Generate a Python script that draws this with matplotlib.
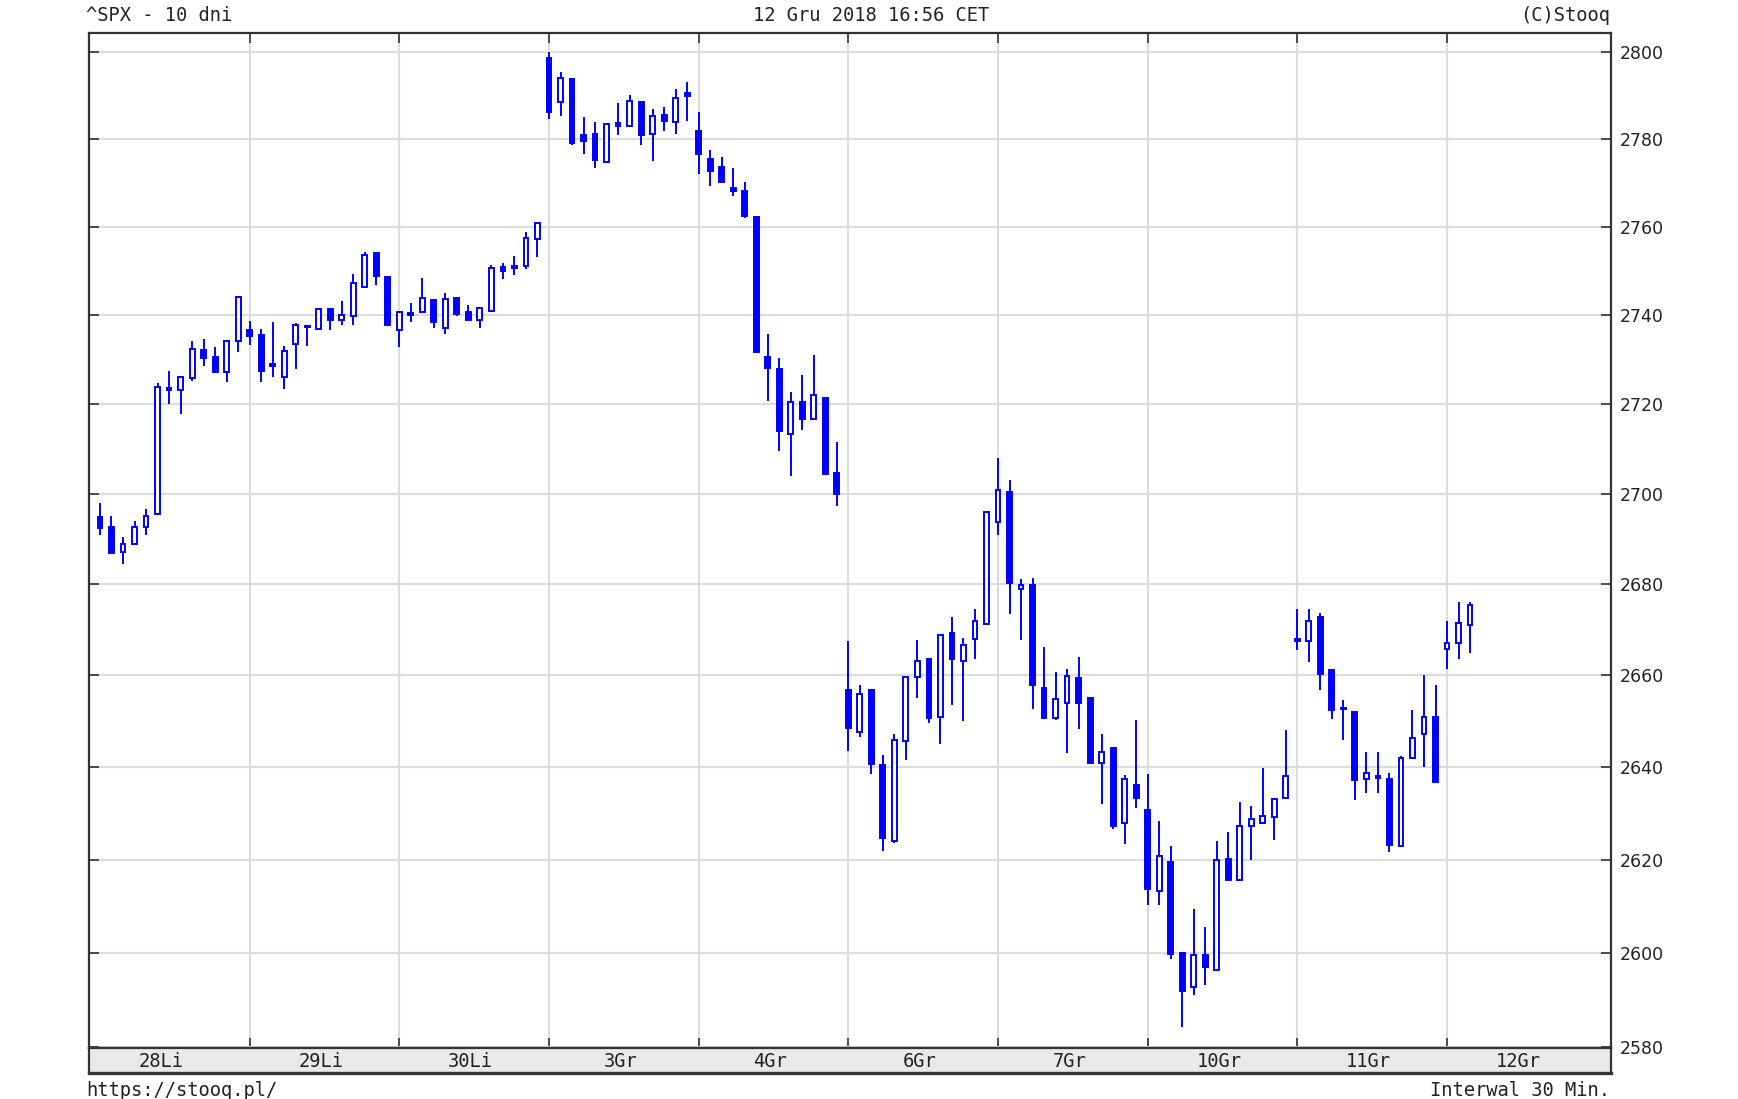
# plot.py
# ^SPX - 10 dni, świece 30 min (wygląd jak na stooq.pl)

import matplotlib
matplotlib.use("Agg")
import matplotlib.pyplot as plt
from matplotlib.ticker import FixedLocator, FuncFormatter, NullLocator

# ============================================================
# Dane
# ============================================================

day_labels = ["28Li", "29Li", "30Li", "3Gr", "4Gr", "6Gr", "7Gr", "10Gr", "11Gr", "12Gr"]
candles_per_day = 13

opens = [
    2694.8, 2692.6, 2687.2, 2688.9, 2692.6, 2695.6, 2723.3, 2723.2, 2725.8, 2732.2, 2730.6, 2727.3, 2734.1,
    2736.6, 2735.5, 2728.5, 2726.0, 2733.6, 2737.6, 2737.0, 2741.4, 2739.0, 2739.8, 2746.4, 2754.1, 2748.7,
    2736.7, 2740.6, 2740.8, 2743.4, 2737.2, 2743.8, 2740.8, 2739.0, 2741.0, 2751.0, 2751.2, 2751.2, 2757.3,
    2798.7, 2788.4, 2793.7, 2780.9, 2781.1, 2774.7, 2783.7, 2782.9, 2788.6, 2781.1, 2785.5, 2784.0, 2790.5,
    2781.9, 2775.5, 2773.7, 2768.8, 2768.2, 2762.3, 2730.6, 2727.8, 2713.3, 2720.5, 2716.8, 2721.5, 2704.7,
    2656.9, 2647.6, 2656.9, 2640.4, 2623.9, 2645.6, 2659.6, 2663.5, 2650.9, 2669.3, 2663.1, 2667.9, 2671.3,
    2693.8, 2700.4, 2678.9, 2679.8, 2657.2, 2650.8, 2654.0, 2659.4, 2655.1, 2640.9, 2644.1, 2627.9, 2636.2,
    2630.6, 2613.2, 2619.5, 2600.0, 2592.6, 2599.6, 2596.4, 2620.2, 2615.5, 2627.2, 2628.0, 2629.2, 2633.2,
    2668.0, 2667.5, 2672.8, 2661.2, 2652.9, 2652.0, 2637.5, 2638.0, 2637.5, 2622.9, 2642.0, 2647.1, 2651.0,
    2665.8, 2667.2, 2671.0,
]
highs = [
    2697.9, 2695.2, 2690.4, 2693.9, 2696.7, 2724.7, 2727.4, 2726.4, 2734.2, 2734.7, 2732.8, 2734.5, 2744.3,
    2738.7, 2737.0, 2738.5, 2733.0, 2738.3, 2737.9, 2741.5, 2741.5, 2743.2, 2749.2, 2754.2, 2754.2, 2748.8,
    2741.0, 2742.8, 2748.4, 2743.6, 2745.1, 2744.2, 2742.3, 2741.8, 2751.4, 2751.9, 2753.3, 2758.8, 2761.1,
    2800.0, 2795.4, 2794.1, 2785.0, 2784.0, 2783.5, 2788.2, 2790.1, 2788.7, 2786.9, 2787.3, 2791.5, 2793.0,
    2786.1, 2777.5, 2776.0, 2773.3, 2770.2, 2762.4, 2735.7, 2730.3, 2722.8, 2726.5, 2731.0, 2721.6, 2711.6,
    2667.6, 2657.8, 2657.0, 2642.7, 2647.1, 2659.7, 2667.7, 2663.6, 2668.9, 2672.8, 2668.3, 2674.5, 2696.1,
    2707.9, 2703.0, 2681.1, 2681.5, 2666.3, 2660.7, 2661.4, 2664.1, 2655.2, 2647.2, 2644.2, 2638.3, 2650.2,
    2638.6, 2628.3, 2622.9, 2600.1, 2609.3, 2605.4, 2624.1, 2626.0, 2632.4, 2631.5, 2639.9, 2633.3, 2648.0,
    2674.6, 2674.6, 2673.8, 2661.3, 2654.7, 2652.1, 2643.3, 2643.3, 2638.8, 2642.4, 2652.5, 2660.1, 2658.0,
    2671.9, 2676.2, 2676.2,
]
lows = [
    2691.0, 2686.7, 2684.4, 2688.7, 2691.0, 2695.4, 2720.0, 2717.8, 2725.3, 2728.5, 2727.0, 2724.9, 2731.7,
    2733.4, 2725.0, 2726.0, 2723.5, 2728.0, 2733.1, 2736.8, 2736.6, 2737.9, 2737.9, 2746.2, 2746.8, 2737.5,
    2732.9, 2738.5, 2740.6, 2737.2, 2735.8, 2739.8, 2738.9, 2737.2, 2740.8, 2748.1, 2749.1, 2750.4, 2753.2,
    2784.7, 2785.2, 2778.6, 2776.6, 2773.3, 2774.6, 2780.9, 2782.8, 2778.6, 2775.0, 2781.9, 2781.1, 2784.2,
    2772.0, 2769.4, 2770.2, 2767.1, 2762.1, 2731.7, 2720.8, 2709.5, 2703.9, 2714.3, 2716.6, 2704.2, 2697.3,
    2643.6, 2646.6, 2638.5, 2621.8, 2623.6, 2641.5, 2655.1, 2649.5, 2645.1, 2653.5, 2650.0, 2663.5, 2671.2,
    2690.9, 2673.4, 2667.8, 2652.6, 2650.8, 2650.3, 2643.1, 2648.2, 2640.8, 2632.0, 2626.5, 2623.4, 2631.2,
    2610.3, 2610.3, 2598.6, 2584.1, 2590.9, 2593.1, 2596.3, 2615.6, 2615.4, 2620.0, 2628.0, 2624.3, 2633.1,
    2665.6, 2663.0, 2656.9, 2650.4, 2646.0, 2632.9, 2634.3, 2634.3, 2621.6, 2622.8, 2641.9, 2640.0, 2636.7,
    2661.4, 2663.6, 2664.8,
]
closes = [
    2692.4, 2687.0, 2688.9, 2692.6, 2695.2, 2723.8, 2723.6, 2726.2, 2732.3, 2730.3, 2727.2, 2734.3, 2744.2,
    2735.3, 2727.5, 2729.0, 2732.0, 2737.9, 2737.3, 2741.4, 2739.0, 2740.0, 2747.3, 2753.7, 2748.9, 2737.7,
    2740.8, 2740.1, 2744.0, 2738.5, 2743.6, 2740.2, 2739.0, 2741.7, 2750.6, 2749.9, 2750.6, 2757.5, 2760.8,
    2786.1, 2794.1, 2779.1, 2779.6, 2775.3, 2783.4, 2782.9, 2788.8, 2781.0, 2785.3, 2784.2, 2789.5, 2789.8,
    2776.7, 2772.6, 2770.3, 2768.2, 2762.4, 2731.8, 2728.1, 2714.0, 2720.5, 2716.8, 2722.0, 2704.4, 2700.0,
    2648.5, 2656.0, 2640.7, 2624.6, 2646.0, 2659.6, 2663.1, 2650.7, 2668.8, 2663.5, 2666.6, 2671.9, 2696.0,
    2700.8, 2680.4, 2679.8, 2657.8, 2650.8, 2654.8, 2659.8, 2654.0, 2640.9, 2643.3, 2627.2, 2637.5, 2633.4,
    2613.6, 2620.7, 2599.8, 2591.8, 2599.6, 2596.9, 2619.8, 2615.7, 2627.2, 2628.7, 2629.4, 2633.0, 2638.1,
    2667.6, 2671.9, 2660.3, 2652.5, 2652.6, 2637.3, 2638.8, 2637.6, 2623.2, 2642.0, 2646.4, 2651.0, 2636.8,
    2667.0, 2671.5, 2675.5,
]

y_ticks = [2580, 2600, 2620, 2640, 2660, 2680, 2700, 2720, 2740, 2760, 2780, 2800]

# ============================================================
# Styl
# ============================================================

BLUE = "#0000ff"
GRID = "#dcdcdc"
FRAME = "#333333"
BAND = "#e9e9e9"
MONO = ["DejaVu Sans Mono"]

W, H = 1738, 1099
ax_left, ax_right = 88.7 / W, 1610.5 / W
ax_top, ax_bot = 1 - 33.3 / H, 1 - 1047.5 / H
band_bot = 1 - 1073.0 / H

fig = plt.figure(figsize=(W / 100, H / 100), dpi=100)
fig.patch.set_facecolor("white")

ax = fig.add_axes([ax_left, ax_bot, ax_right - ax_left, ax_top - ax_bot])
band = fig.add_axes([ax_left, band_bot, ax_right - ax_left, ax_bot - band_bot])

# ── świece ────────────────────────────────────────────────
x = list(range(len(opens)))
ax.vlines(x, lows, highs, color=BLUE, linewidth=1.4, zorder=3)

up = [i for i in x if closes[i] >= opens[i]]
dn = [i for i in x if closes[i] < opens[i]]
ax.bar(up, [closes[i] - opens[i] for i in up], bottom=[opens[i] for i in up],
       width=0.42, facecolor="white", edgecolor=BLUE, linewidth=1.4, zorder=4)
ax.bar(dn, [opens[i] - closes[i] for i in dn], bottom=[closes[i] for i in dn],
       width=0.42, facecolor=BLUE, edgecolor=BLUE, linewidth=1.4, zorder=4)

# ── osie ──────────────────────────────────────────────────
ax.set_yscale("log")
ax.set_xlim(-0.98, 131.2)
ax.set_ylim(2579.8, 2804.3)

day_starts = [candles_per_day * d for d in range(1, len(day_labels))]
ax.xaxis.set_major_locator(FixedLocator(day_starts))
ax.yaxis.set_major_locator(FixedLocator(y_ticks))
ax.yaxis.set_minor_locator(NullLocator())
ax.yaxis.set_major_formatter(FuncFormatter(lambda v, _: f"{v:.0f}"))

ax.tick_params(axis="x", direction="in", top=True, bottom=True, labelbottom=False,
               length=7, width=1.2, color=FRAME)
ax.tick_params(axis="y", which="major", direction="in", left=True, right=True,
               labelleft=False, labelright=True, length=7, width=1.2, color=FRAME,
               pad=7, labelsize=12.5, labelcolor="#222222")
ax.grid(True, color=GRID, linewidth=1.5, zorder=0)
ax.set_axisbelow(True)
for s in ax.spines.values():
    s.set_color(FRAME)
    s.set_linewidth(1.6)

# ── pasek z datami ────────────────────────────────────────
band.set_facecolor(BAND)
band.set_xlim(ax.get_xlim())
band.set_ylim(0, 1)
band.set_xticks([])
band.set_yticks([])
for s in band.spines.values():
    s.set_color(FRAME)
    s.set_linewidth(1.6)
band.spines["bottom"].set_linewidth(2.4)

label_x = [5.3] + [d + 6.2 for d in day_starts]
for lx, lab in zip(label_x, day_labels):
    band.text(lx, 0.45, lab, ha="center", va="center", fontsize=13.5,
              family=MONO, color="#222222")

# ── napisy ────────────────────────────────────────────────
fig.text(86.5 / W, 1 - 15.5 / H, "^SPX - 10 dni", ha="left", va="center",
         fontsize=13.5, family=MONO, color="#222222")
fig.text(870.7 / W, 1 - 15.5 / H, "12 Gru 2018 16:56 CET", ha="center", va="center",
         fontsize=13.5, family=MONO, color="#222222")
fig.text(ax_right, 1 - 15.5 / H, "(C)Stooq", ha="right", va="center",
         fontsize=13.5, family=MONO, color="#222222")
fig.text(86.5 / W, 1 - 1090 / H, "https://stooq.pl/", ha="left", va="center",
         fontsize=13.5, family=MONO, color="#222222")
fig.text(ax_right, 1 - 1090 / H, "Interwal 30 Min.", ha="right", va="center",
         fontsize=13.5, family=MONO, color="#222222")

fig.savefig("out.png", dpi=100)
plt.close(fig)
